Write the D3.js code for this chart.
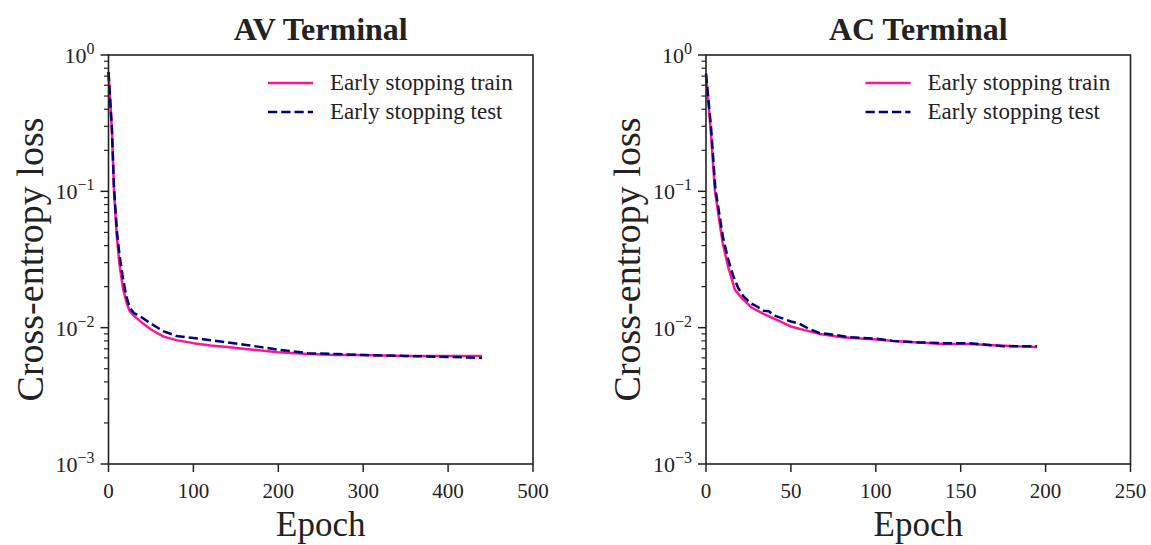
<!DOCTYPE html>
<html><head><meta charset="utf-8">
<script src="https://cdn.jsdelivr.net/npm/d3@7"></script>
<style>
body{margin:0;background:#fff;}
svg{display:block;}
text{font-family:"Liberation Serif","DejaVu Serif",serif;fill:#222;}
</style></head>
<body><svg id="c" width="1151" height="545"></svg>
<script>
// ---- data ----
const titles = ["AV Terminal", "AC Terminal"];
const seriesNames = ["Early stopping train", "Early stopping test"];
const xMax = [500, 250];
const xTicksAV = [0, 100, 200, 300, 400, 500];
const xTicksAC = [0, 50, 100, 150, 200, 250];
const yTickExp = [0, -1, -2, -3];

const avTrainEpoch = [0, 4, 6.5, 10, 13, 17, 21, 25, 30, 40, 50, 65, 80, 100, 120, 140, 170, 200, 235, 270, 300, 350, 400, 440];
const avTrainLoss  = [0.75, 0.28, 0.10, 0.045, 0.029, 0.0195, 0.0155, 0.0132, 0.0122, 0.0108, 0.0097, 0.0086, 0.0081, 0.0077, 0.0074, 0.0072, 0.0069, 0.0066, 0.0064, 0.0063, 0.0063, 0.0062, 0.0062, 0.0062];
const avTestEpoch  = [0, 4, 6.5, 10, 13, 17, 21, 25, 30, 40, 50, 65, 80, 100, 120, 140, 160, 180, 200, 235, 270, 300, 350, 400, 440];
const avTestLoss   = [0.75, 0.29, 0.105, 0.05, 0.034, 0.023, 0.017, 0.014, 0.0128, 0.0118, 0.0107, 0.0094, 0.0087, 0.0084, 0.0081, 0.0078, 0.0075, 0.0072, 0.0069, 0.0065, 0.0064, 0.0063, 0.0062, 0.0061, 0.006];

const acTrainEpoch = [0, 2.8, 5.3, 9.8, 13, 17, 21, 24, 27, 33, 37, 43, 50, 58, 67, 80, 100, 110, 125, 140, 155, 172, 195];
const acTrainLoss  = [0.73, 0.28, 0.10, 0.042, 0.028, 0.019, 0.0165, 0.0152, 0.014, 0.0128, 0.0121, 0.0112, 0.0102, 0.0096, 0.009, 0.0085, 0.0082, 0.008, 0.0078, 0.0076, 0.0076, 0.0074, 0.0072];
const acTestEpoch  = [0, 3, 5.5, 10, 13, 16, 19, 22, 26, 30, 34, 37, 40, 45, 50, 55, 60, 67, 72, 77, 85, 100, 110, 125, 140, 155, 165, 175, 195];
const acTestLoss   = [0.73, 0.29, 0.105, 0.046, 0.032, 0.024, 0.0195, 0.017, 0.0152, 0.0143, 0.0133, 0.0132, 0.0123, 0.0117, 0.0111, 0.0107, 0.0099, 0.0091, 0.009, 0.0088, 0.0085, 0.0083, 0.008, 0.0078, 0.0077, 0.0077, 0.0075, 0.0073, 0.0073];

const panels = [
  {title: titles[0], xMax: xMax[0], xTicks: xTicksAV, left: 108.5,
   train: avTrainEpoch.map((e,i)=>[e, avTrainLoss[i]]), test: avTestEpoch.map((e,i)=>[e, avTestLoss[i]])},
  {title: titles[1], xMax: xMax[1], xTicks: xTicksAC, left: 706,
   train: acTrainEpoch.map((e,i)=>[e, acTrainLoss[i]]), test: acTestEpoch.map((e,i)=>[e, acTestLoss[i]])}
];

const W = 424.5, plotTop = 55, plotBottom = 464;
const svg = d3.select("#c");
const trainColor = "#ff1493", testColor = "#000080";

panels.forEach(p => {
  const g = svg.append("g");
  const x = d3.scaleLinear().domain([0, p.xMax]).range([p.left, p.left + W]);
  const y = d3.scaleLog().domain([1e-3, 1]).range([plotBottom, plotTop]);

  // minor y ticks
  const minors = [];
  [-3, -2, -1].forEach(k => { for (let m = 2; m <= 9; m++) minors.push(m * Math.pow(10, k)); });
  g.selectAll("line.minor").data(minors).enter().append("line")
    .attr("x1", p.left - 4.5).attr("x2", p.left)
    .attr("y1", d => y(d)).attr("y2", d => y(d))
    .attr("stroke", "#222").attr("stroke-width", 1.2);
  // major y ticks
  g.selectAll("line.major").data(yTickExp).enter().append("line")
    .attr("x1", p.left - 8).attr("x2", p.left)
    .attr("y1", d => y(Math.pow(10, d))).attr("y2", d => y(Math.pow(10, d)))
    .attr("stroke", "#222").attr("stroke-width", 1.5);
  // y tick labels
  const yl = g.selectAll("text.yl").data(yTickExp).enter().append("text")
    .attr("text-anchor", "end")
    .attr("x", p.left - 14)
    .attr("y", d => y(Math.pow(10, d)) + 8)
    .style("font-size", "22px");
  yl.append("tspan").text("10");
  yl.append("tspan").attr("dy", -9).style("font-size", "16px").text(d => d === 0 ? "0" : "\u2212" + (-d));

  // x ticks
  g.selectAll("line.xt").data(p.xTicks).enter().append("line")
    .attr("x1", d => x(d)).attr("x2", d => x(d))
    .attr("y1", plotBottom).attr("y2", plotBottom + 8)
    .attr("stroke", "#222").attr("stroke-width", 1.5);
  g.selectAll("text.xl").data(p.xTicks).enter().append("text")
    .attr("text-anchor", "middle").attr("x", d => x(d)).attr("y", plotBottom + 34)
    .style("font-size", "21px").text(d => d);

  // lines
  const line = d3.line().x(d => x(d[0])).y(d => y(d[1]));
  g.append("path").datum(p.train).attr("d", line).attr("fill", "none")
    .attr("stroke", trainColor).attr("stroke-width", 2.5).attr("stroke-linejoin", "round");
  g.append("path").datum(p.test).attr("d", line).attr("fill", "none")
    .attr("stroke", testColor).attr("stroke-width", 2.5).attr("stroke-dasharray", "9.25,4");

  // frame
  g.append("rect").attr("x", p.left).attr("y", plotTop).attr("width", W).attr("height", plotBottom - plotTop)
    .attr("fill", "none").attr("stroke", "#222").attr("stroke-width", 1.6);

  // title
  g.append("text").attr("x", p.left + W / 2).attr("y", 40).attr("text-anchor", "middle")
    .style("font-size", "32px").style("font-weight", "bold").text(p.title);
  // axis labels
  g.append("text").attr("x", p.left + W / 2).attr("y", 536).attr("text-anchor", "middle")
    .style("font-size", "35px").text("Epoch");
  g.append("text").attr("transform", `translate(${p.left - 66},${(plotTop + plotBottom) / 2}) rotate(-90)`)
    .attr("text-anchor", "middle").style("font-size", "38px").text("Cross-entropy loss");

  // legend
  const lx = p.left + W - 265;
  [trainColor, testColor].forEach((c, i) => {
    const ly = 83 + i * 29;
    g.append("line").attr("x1", lx).attr("x2", lx + 45).attr("y1", ly).attr("y2", ly)
      .attr("stroke", c).attr("stroke-width", 2.5).attr("stroke-dasharray", i ? "9.25,4" : null);
    g.append("text").attr("x", lx + 62).attr("y", ly + 7).style("font-size", "23px").text(seriesNames[i]);
  });
});
</script></body></html>
